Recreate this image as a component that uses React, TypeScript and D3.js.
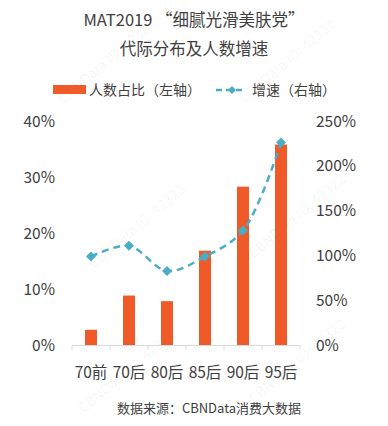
import React from "react";
import * as d3 from "d3";

const categories = ["70前", "70后", "80后", "85后", "90后", "95后"];
const shareValues = [2.8, 8.9, 7.9, 16.9, 28.3, 35.8];
const growthValues = [99, 111, 83, 99, 128, 226];
const leftTicks = [0, 10, 20, 30, 40];
const rightTicks = [0, 50, 100, 150, 200, 250];
const titleLines = ["MAT2019 “细腻光滑美肤党”", "代际分布及人数增速"];
const legendLabels = ["人数占比（左轴）", "增速（右轴）"];
const sourceText = "数据来源：CBNData消费大数据";
const watermarkText = "CBNData ID: 42322";

const W = 388;
const H = 426;
const plot = { left: 72, right: 300, top: 121, bottom: 345.5 };
const BAR = "#f05a28";
const LINE = "#4bacc6";
const TEXT = "#404040";
const FONT = "'Noto Sans CJK SC', 'Noto Sans', sans-serif";

export default function App() {
  const x = d3.scaleBand<string>().domain(categories).range([plot.left, plot.right]);
  const yL = d3.scaleLinear().domain([0, 40]).range([plot.bottom, plot.top]);
  const yR = d3.scaleLinear().domain([0, 250]).range([plot.bottom, plot.top]);
  const barW = 12;
  const cx = (c: string) => (x(c) ?? 0) + x.bandwidth() / 2;
  const linePts: [number, number][] = categories.map((c, i) => [cx(c), yR(growthValues[i])]);
  const linePath = d3.line().curve(d3.curveCatmullRom.alpha(0.5))(linePts) ?? "";
  const boundaries = d3.range(categories.length + 1).map((i) => plot.left + i * x.bandwidth());
  const diamond = (px: number, py: number, r: number) =>
    `M${px},${py - r}L${px + r},${py}L${px},${py + r}L${px - r},${py}Z`;

  const watermarks = [
    [110, 65], [290, 65], [140, 230], [300, 220], [130, 375], [300, 365],
  ];

  return (
    <svg
      width={W}
      height={H}
      style={{ position: "absolute", left: 0, top: 0, background: "#fff" }}
      fontFamily={FONT}
    >
      <rect x={0} y={0} width={W} height={H} fill="#fff" />
      {watermarks.map(([wx, wy], i) => (
        <text
          key={"wm" + i}
          x={wx}
          y={wy}
          transform={`rotate(-40 ${wx} ${wy})`}
          fontSize={14}
          fill="#000"
          fillOpacity={0.05}
          textAnchor="middle"
        >
          {watermarkText}
        </text>
      ))}
      {titleLines.map((t, i) => (
        <text key={t} x={194} y={26 + i * 29} textAnchor="middle" fontSize={16.5} fill={TEXT}>
          {t}
        </text>
      ))}
      {/* legend */}
      <rect x={53} y={85} width={33} height={9} fill={BAR} />
      <text x={89} y={95} fontSize={14} fill={TEXT}>
        {legendLabels[0]}
      </text>
      <line x1={216} x2={244} y1={90} y2={90} stroke={LINE} strokeWidth={2.5} strokeDasharray="6,4" />
      <path d={diamond(232, 90, 4)} fill={LINE} />
      <text x={252} y={95} fontSize={14} fill={TEXT}>
        {legendLabels[1]}
      </text>

      {/* axes labels */}
      {leftTicks.map((t) => (
        <text key={"l" + t} x={55} y={yL(t) + 5.5} textAnchor="end" fontSize={15.5} fill={TEXT}>
          {t}%
        </text>
      ))}
      {rightTicks.map((t) => (
        <text key={"r" + t} x={316} y={yR(t) + 5.5} textAnchor="start" fontSize={15.5} fill={TEXT}>
          {t}%
        </text>
      ))}

      {/* bars */}
      {categories.map((c, i) => (
        <rect
          key={"b" + c}
          x={cx(c) - barW / 2}
          y={yL(shareValues[i])}
          width={barW}
          height={plot.bottom - yL(shareValues[i])}
          fill={BAR}
        />
      ))}

      {/* x axis */}
      <line x1={plot.left} x2={plot.right} y1={plot.bottom} y2={plot.bottom} stroke="#d9d9d9" strokeWidth={1} />
      {boundaries.map((bx, i) => (
        <line key={"t" + i} x1={bx} x2={bx} y1={plot.bottom} y2={plot.bottom + 4} stroke="#d9d9d9" />
      ))}
      {categories.map((c) => (
        <text key={"x" + c} x={cx(c)} y={378} textAnchor="middle" fontSize={15.5} fill={TEXT}>
          {c}
        </text>
      ))}

      {/* line */}
      <path d={linePath} fill="none" stroke={LINE} strokeWidth={2.5} strokeDasharray="7,5" />
      {linePts.map(([px, py], i) => (
        <path key={"m" + i} d={diamond(px, py, 5)} fill={LINE} />
      ))}

      <text x={209} y={413} textAnchor="middle" fontSize={13} fill={TEXT}>
        {sourceText}
      </text>
    </svg>
  );
}
